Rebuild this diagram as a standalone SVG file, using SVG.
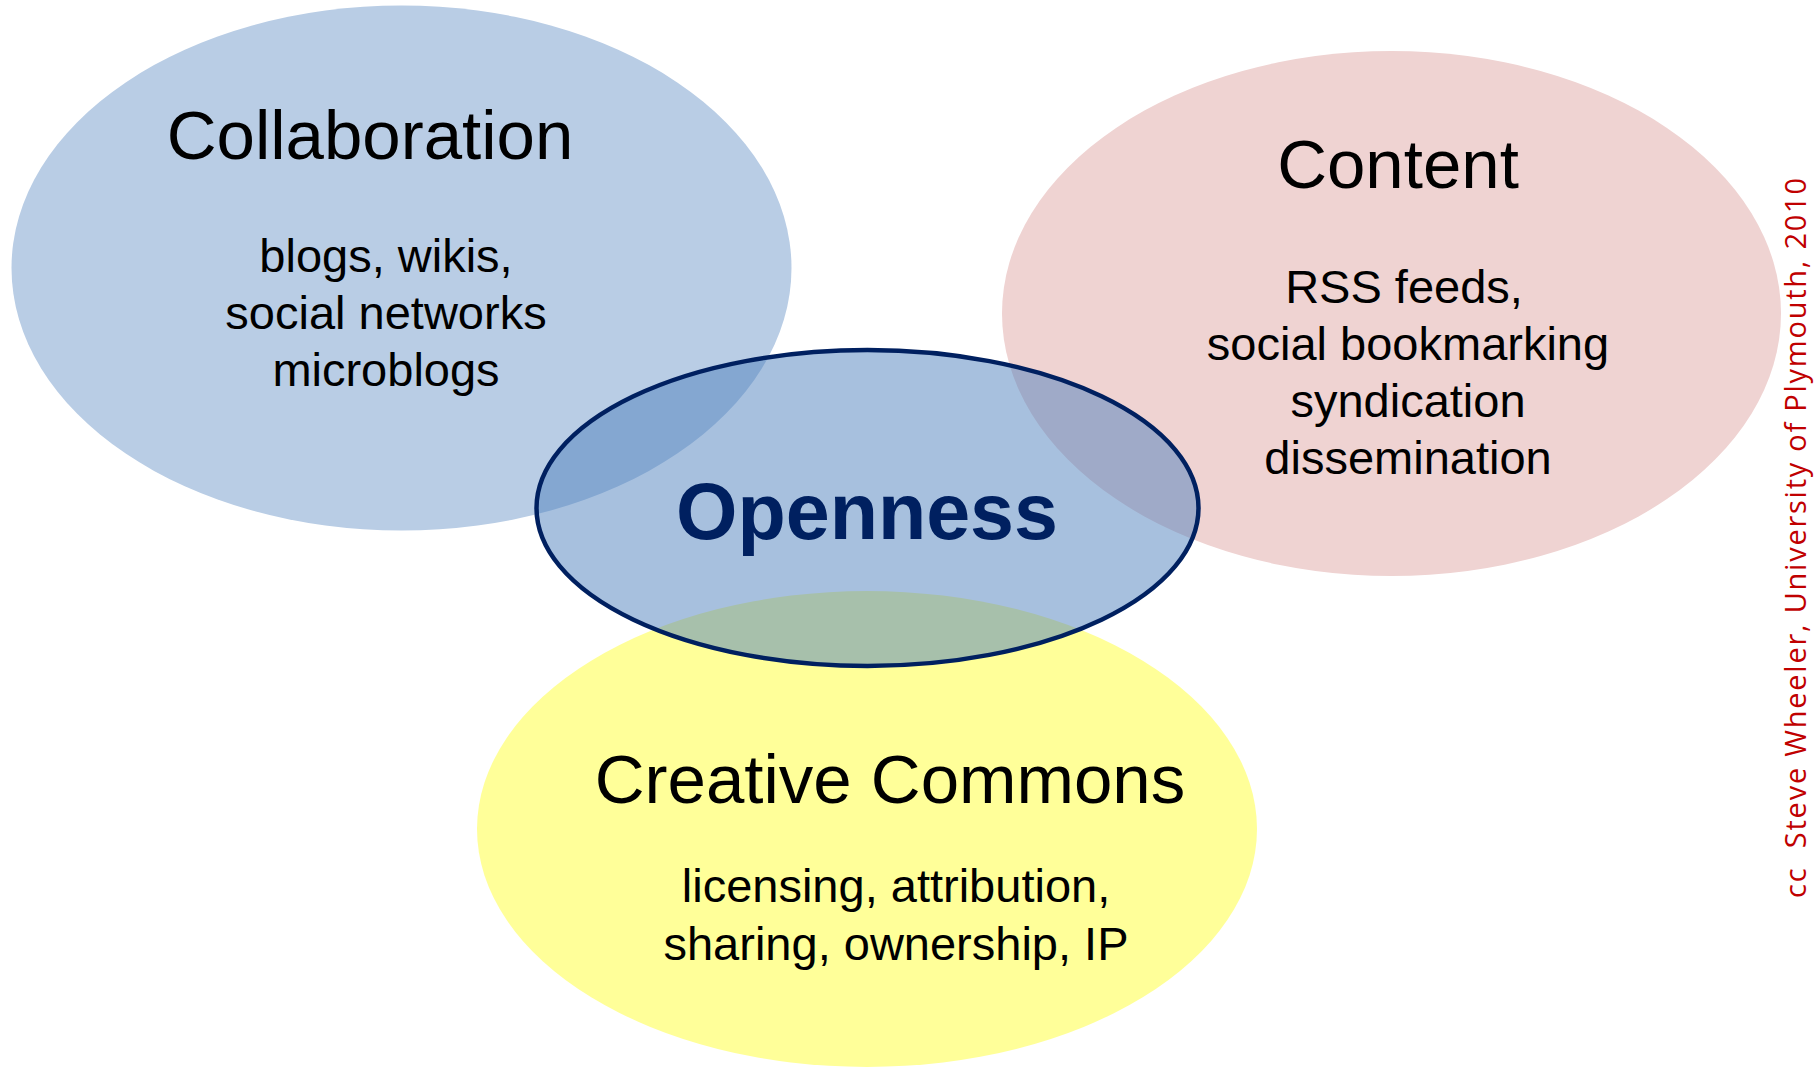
<svg xmlns="http://www.w3.org/2000/svg" width="1817" height="1067" viewBox="0 0 1817 1067">
<style>
.t{font-family:"Liberation Sans",Arial,sans-serif;fill:#000;text-anchor:middle}
.h{font-size:69px}
.s{font-size:47px}
.o{font-family:"Liberation Sans",Arial,sans-serif;font-weight:bold;font-size:79px;fill:#002060;text-anchor:middle}
.cc{font-family:"Open Sans","Liberation Sans",sans-serif;font-size:29px;fill:#C00000}
</style>
<rect width="1817" height="1067" fill="#FFFFFF"/>
<g id="collaboration">
<ellipse cx="401.5" cy="268" rx="390" ry="262.5" fill="#B9CDE5"/>
</g>
<g id="content">
<ellipse cx="1391.5" cy="313.5" rx="389.5" ry="262.5" fill="#EFD3D2"/>
</g>
<g id="creative-commons">
<ellipse cx="867" cy="829" rx="390" ry="238" fill="#FFFF99"/>
</g>
<g id="openness">
<ellipse cx="867.5" cy="508" rx="331" ry="158" fill="#4F81BD" fill-opacity="0.5" stroke="#002060" stroke-width="4.5"/>
<text class="o" x="867" y="539">Openness</text>
</g>
<g id="connectors"></g>
<g id="collaboration-text">
<text class="t h" x="370" y="159">Collaboration</text>
<text class="t s" x="386" y="272">blogs, wikis,</text>
<text class="t s" x="386" y="329">social networks</text>
<text class="t s" x="386" y="386">microblogs</text>
</g>
<g id="content-text">
<text class="t h" x="1398" y="188">Content</text>
<text class="t s" x="1404" y="303">RSS feeds,</text>
<text class="t s" x="1408" y="360">social bookmarking</text>
<text class="t s" x="1408" y="417">syndication</text>
<text class="t s" x="1408" y="474">dissemination</text>
</g>
<g id="creative-commons-text">
<text class="t h" x="890" y="803">Creative Commons</text>
<text class="t s" x="896" y="902">licensing, attribution,</text>
<text class="t s" x="896" y="960">sharing, ownership, IP</text>
</g>
<g id="credit">
<text class="cc" transform="translate(1806,898) rotate(-90)" textLength="720" lengthAdjust="spacing" xml:space="preserve">cc  Steve Wheeler, University of Plymouth, 2010</text>
</g>
</svg>
